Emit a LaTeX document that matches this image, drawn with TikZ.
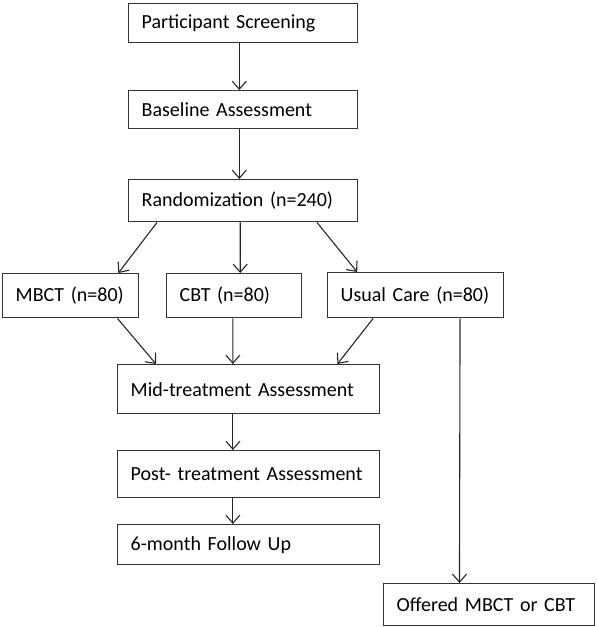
\documentclass[tikz,border=0pt]{standalone}
\usepackage{fontspec}
\setmainfont{Carlito}[WordSpace=0.85]
\usepackage{tikz}
\usetikzlibrary{calc}
\usetikzlibrary{arrows.meta}
\tikzset{>={Straight Barb[length=8pt,width=14pt]}}
\tikzstyle{stage} = [rectangle, draw=black!80, line width=1.4pt, anchor=north west, align=left, inner xsep=13pt, inner ysep=0pt, font=\fontsize{20}{23}\selectfont]
\tikzstyle{flow} = [->, draw=black!85, line width=1.1pt]

\begin{document}
\begin{tikzpicture}[x=1pt, y=-1pt]
\useasboundingbox (0,0) rectangle (597,627);
\node [stage, text width=203pt, minimum height=39pt] (screen) at (128,3) {Participant Screening};
\node [stage, text width=203pt, minimum height=38pt] (base) at (128,90) {Baseline Assessment};
\node [stage, text width=203pt, minimum height=42pt] (rand) at (128,179) {Randomization (n=240)};
\node [stage, text width=110pt, minimum height=44pt] (mbct) at (2,273) {MBCT (n=80)};
\node [stage, text width=109pt, minimum height=44pt] (cbt) at (166,273) {CBT (n=80)};
\node [stage, text width=150pt, minimum height=45pt] (uc) at (327,272) {Usual Care (n=80)};
\node [stage, text width=236pt, minimum height=49pt] (mid) at (117,364) {Mid-treatment Assessment};
\node [stage, text width=236pt, minimum height=47pt] (post) at (117,450) {Post- treatment Assessment};
\node [stage, text width=236pt, minimum height=40pt] (follow) at (117,524) {6-month Follow Up};
\node [stage, text width=185pt, minimum height=42pt] (offer) at (383,583) {Offered MBCT or CBT};
% top column
\draw [flow] ($(screen.south west)!0.483!(screen.south east)$) -- ($(base.north west)!0.483!(base.north east)$);
\draw [flow] ($(base.south west)!0.483!(base.south east)$) -- ($(rand.north west)!0.483!(rand.north east)$);
% randomization to the three arms
\draw [flow] ($(rand.south west)!0.126!(rand.south east)$) -- ($(mbct.north west)!0.847!(mbct.north east)$);
\draw [flow] ($(rand.south west)!0.487!(rand.south east)$) -- ($(cbt.north west)!0.544!(cbt.north east)$);
\draw [flow] ($(rand.south west)!0.82!(rand.south east)$) -- ($(uc.north west)!0.17!(uc.north east)$);
% arms to mid-treatment
\draw [flow] ($(mbct.south west)!0.84!(mbct.south east)$) -- ($(mid.north west)!0.148!(mid.north east)$);
\draw [flow] ($(cbt.south west)!0.49!(cbt.south east)$) -- ($(mid.north west)!0.44!(mid.north east)$);
\draw [flow] ($(uc.south west)!0.26!(uc.south east)$) -- ($(mid.north west)!0.837!(mid.north east)$);
\draw [flow] ($(uc.south west)!0.75!(uc.south east)$) -- ($(offer.north west)!0.36!(offer.north east)$);
% bottom column
\draw [flow] ($(mid.south west)!0.44!(mid.south east)$) -- ($(post.north west)!0.44!(post.north east)$);
\draw [flow] ($(post.south west)!0.44!(post.south east)$) -- ($(follow.north west)!0.44!(follow.north east)$);
\end{tikzpicture}
\end{document}
